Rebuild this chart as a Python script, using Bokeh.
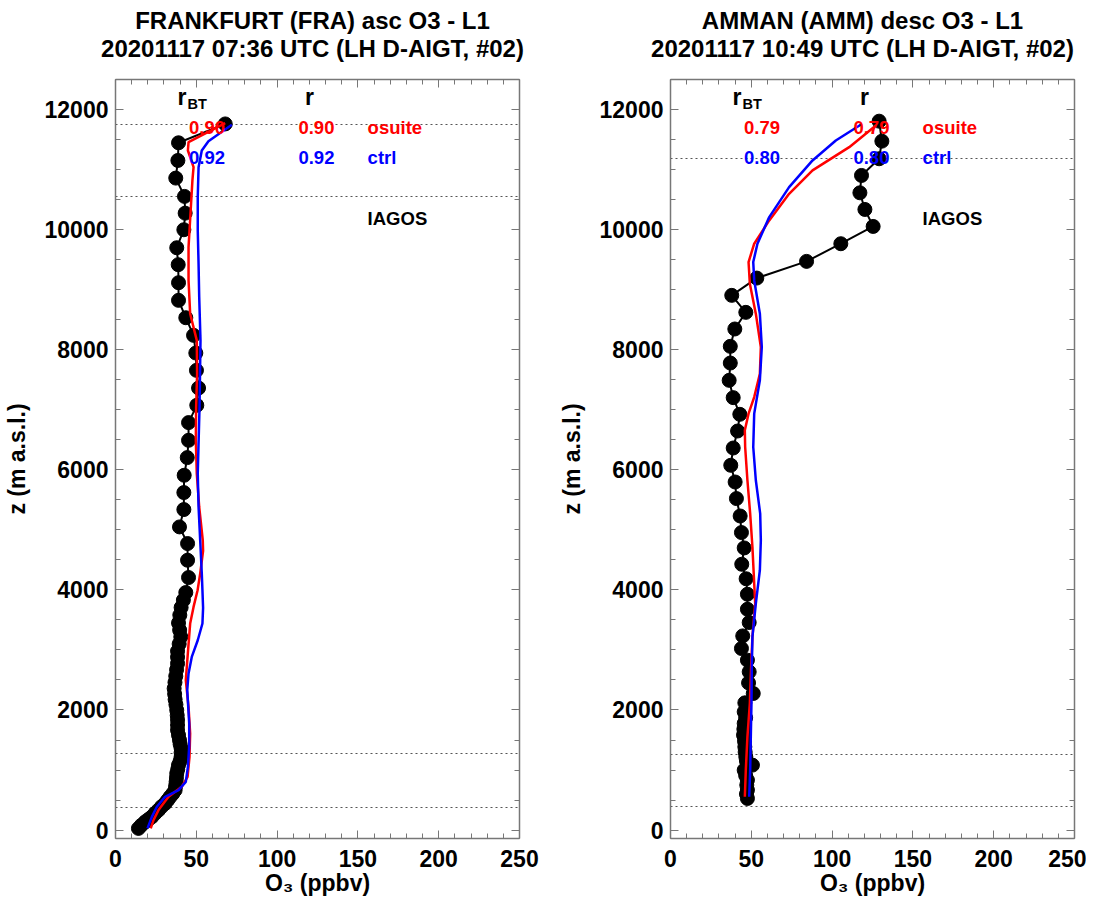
from bokeh.plotting import figure
from bokeh.models import (LinearAxis, Range1d, ColumnDataSource,
                          SingleIntervalTicker, CustomLabelingPolicy)
from bokeh.layouts import row, column
from bokeh.embed import file_html
from bokeh.resources import INLINE
from bokeh.core.properties import value

FONT = "Liberation Sans"

# ---------------- FRANKFURT (ascent) ----------------
fra_title = ["FRANKFURT (FRA) asc O3 - L1", "20201117 07:36 UTC (LH D-AIGT, #02)"]
fra_iagos_z = [28, 80, 138, 180, 221, 280, 333, 390, 444, 500, 554, 610, 666, 735,
               804, 870, 944, 1010, 1082, 1150, 1220, 1290, 1360, 1430, 1498, 1580,
               1664, 1750, 1831, 1910, 1997, 2090, 2175, 2265, 2358, 2460, 2563, 2670,
               2774, 2880, 2979, 3100, 3218, 3330, 3450, 3580, 3706, 3830, 3956, 4206,
               4494, 4772, 5049, 5338, 5621, 5909, 6203, 6491, 6786, 7074, 7362, 7656,
               7945, 8239, 8533, 8822, 9116, 9416, 9698, 9998, 10274, 10553, 10858,
               11152, 11446, 11760]
fra_iagos_o3 = [14.2, 16.0, 18.4, 20.5, 22.5, 24.5, 26.6, 28.5, 30.7, 32.3, 33.8, 35.5,
                36.9, 37.2, 37.5, 37.7, 37.9, 38.5, 39.0, 40.0, 40.6, 40.6, 40.6, 40.0,
                39.6, 39.0, 38.4, 38.4, 38.4, 38.2, 37.9, 37.4, 36.9, 36.6, 36.3, 36.8,
                37.3, 37.8, 38.4, 38.4, 38.4, 39.4, 40.4, 39.7, 39.0, 39.8, 40.6, 42.0,
                43.5, 45.2, 44.6, 44.6, 39.6, 42.3, 42.3, 42.5, 44.4, 45.2, 45.2, 50.3,
                51.4, 50.1, 49.7, 48.3, 43.5, 39.0, 39.0, 38.8, 37.9, 42.3, 43.1, 42.7,
                37.3, 38.6, 39.0, 67.9]
fra_osuite_z = [28, 166, 333, 554, 721, 887, 1220, 1609, 2053, 2497, 2884, 3440, 3717,
                3995, 4272, 4650, 4827, 5381, 5937, 6491, 7046, 7601, 8156, 8600, 9154,
                9709, 10264, 10819, 11040, 11318, 11457, 11773]
fra_osuite_o3 = [21.8, 23.5, 26.6, 32.8, 41.0, 44.6, 45.8, 46.2, 45.2, 43.5, 44.6, 46.2,
                 48.3, 50.8, 52.4, 54.2, 54.0, 51.8, 50.3, 49.7, 49.9, 50.5, 50.3, 46.2,
                 45.2, 45.2, 46.4, 47.6, 48.3, 44.8, 45.2, 67.9]
fra_ctrl_z = [28, 221, 388, 554, 666, 804, 1054, 1386, 1776, 2330, 2608, 2884, 3162,
              3440, 3700, 3995, 4272, 4827, 5381, 5937, 7046, 8156, 8877, 9433, 9987,
              10541, 11040, 11318, 11473, 11746]
fra_ctrl_o3 = [19.8, 22.5, 25.6, 30.7, 39.0, 43.5, 44.8, 45.6, 45.6, 44.4, 45.2, 47.2,
               50.9, 53.8, 54.2, 53.8, 53.4, 52.4, 51.4, 50.9, 52.0, 52.6, 51.8, 51.4,
               50.9, 50.9, 51.4, 53.4, 57.5, 72.0]
fra_levels = [11750, 10556, 1269, 370]
fra_r_bt = ["0.90", "0.92"]
fra_r = ["0.90", "0.92"]

# ---------------- AMMAN (descent) ----------------
amm_title = ["AMMAN (AMM) desc O3 - L1", "20201117 10:49 UTC (LH D-AIGT, #02)"]
amm_iagos_z = [11806, 11473, 11180, 10902, 10613, 10336, 10053, 9765, 9471, 9193, 8905,
               8622, 8345, 8056, 7778, 7490, 7202, 6924, 6646, 6363, 6075, 5797, 5521,
               5231, 4955, 4699, 4427, 4185, 3928, 3678, 3457, 3234, 3024, 2830, 2635,
               2452, 2275, 2119, 1969, 1870, 1776, 1680, 1581, 1480, 1386, 1300, 1220,
               1150, 1082, 999, 910, 832, 750, 666, 600, 527]
amm_iagos_o3 = [129.1, 130.8, 129.1, 118.2, 117.2, 120.3, 125.4, 105.4, 84.2, 53.4, 37.9,
                46.6, 39.8, 37.0, 37.0, 36.3, 38.8, 42.9, 41.5, 38.8, 37.3, 40.0, 40.8,
                43.1, 43.9, 45.6, 44.1, 46.8, 47.6, 47.6, 48.7, 44.7, 43.9, 47.6, 48.7,
                48.3, 51.2, 46.0, 45.6, 46.5, 45.6, 45.4, 45.2, 45.8, 46.0, 46.2, 46.6,
                47.0, 50.7, 45.6, 46.5, 47.6, 47.2, 47.6, 47.0, 47.6]
amm_osuite_z = [11734, 11373, 10986, 10596, 10153, 9765, 9460, 9098, 8600, 8045, 7601,
                7212, 6936, 6658, 6380, 5826, 5271, 4715, 4328, 3773, 3217, 2663, 2109,
                1553, 999, 554]
amm_osuite_o3 = [127.1, 110.6, 87.9, 73.4, 61.1, 51.8, 48.3, 49.1, 52.8, 55.9, 55.3,
                 51.8, 48.3, 46.0, 46.2, 47.6, 49.3, 50.7, 51.4, 52.4, 50.7, 49.8, 49.1,
                 47.6, 46.6, 46.0]
amm_ctrl_z = [11760, 11485, 11152, 10707, 10208, 9765, 9460, 9154, 8600, 8045, 7490,
              6936, 6380, 5826, 5271, 4827, 4328, 3773, 3217, 2663, 2109, 1553, 999, 554]
amm_ctrl_o3 = [118.4, 102.3, 87.9, 73.4, 61.1, 53.8, 51.2, 51.8, 55.3, 56.5, 55.3,
               51.8, 51.2, 52.8, 55.5, 55.9, 55.3, 52.8, 50.7, 50.3, 50.1, 49.7, 49.3,
               48.7]
amm_levels = [11189, 1252, 391]
amm_r_bt = ["0.79", "0.80"]
amm_r = ["0.79", "0.80"]

series_names = ["osuite", "ctrl"]
series_colors = ["#ff0000", "#0000ff"]

X_RANGE = (0, 250)
Y_RANGE = (-140, 12500)

BORDER_LEFT = 110
FRAME_W = 404
FRAME_H = 759
TITLE_H = 69


def style_axis(ax, labels=True):
    ax.axis_line_color = "#777777"
    ax.axis_line_width = 1.5
    ax.major_tick_line_color = "#777777"
    ax.minor_tick_line_color = "#777777"
    ax.major_tick_in = 8
    ax.major_tick_out = 0
    ax.minor_tick_in = 5
    ax.minor_tick_out = 0
    if labels:
        ax.major_label_text_font = FONT
        ax.major_label_text_font_style = "bold"
        ax.major_label_text_font_size = "23px"
        ax.major_label_text_color = "black"
        ax.axis_label_text_font = FONT
        ax.axis_label_text_font_style = "bold"
        ax.axis_label_text_font_size = "23px"
        ax.axis_label_text_color = "black"
    else:
        ax.major_label_text_font_size = "0px"
        ax.major_label_standoff = 0
        ax.major_label_policy = CustomLabelingPolicy(
            code="return new indices.constructor(indices.size, 0)")


def make_title(lines, border_right):
    w = BORDER_LEFT + FRAME_W + border_right
    t = figure(frame_width=w, frame_height=TITLE_H, x_range=Range1d(0, w),
               y_range=Range1d(0, TITLE_H), output_backend="svg",
               toolbar_location=None, min_border=0, x_axis_type=None,
               y_axis_type=None)
    t.outline_line_color = None
    t.background_fill_color = "white"
    t.border_fill_color = "white"
    t.text(x=[BORDER_LEFT + FRAME_W / 2] * 2, y=[TITLE_H - 20, TITLE_H - 48],
           text=lines, text_font=value(FONT), text_font_style="bold",
           text_font_size="24px", text_color="black", text_align="center",
           text_baseline="middle")
    return t


def make_panel(iz, io3, oz, oo3, cz, co3, levels, rbt, rr, border_right):
    p = figure(frame_width=FRAME_W, frame_height=FRAME_H,
               x_range=Range1d(*X_RANGE), y_range=Range1d(*Y_RANGE),
               output_backend="svg", toolbar_location=None,
               min_border_left=BORDER_LEFT, min_border_right=border_right,
               min_border_top=10, min_border_bottom=50,
               x_axis_type=None, y_axis_type=None)
    p.outline_line_color = None
    p.background_fill_color = "white"
    p.border_fill_color = "white"

    for loc in ["below", "above"]:
        ax = LinearAxis(ticker=SingleIntervalTicker(interval=50, num_minor_ticks=5))
        style_axis(ax, labels=(loc == "below"))
        if loc == "below":
            ax.axis_label = "O\u2083 (ppbv)"
            ax.major_label_standoff = 11
            ax.axis_label_standoff = 0
        p.add_layout(ax, loc)
    for loc in ["left", "right"]:
        ax = LinearAxis(ticker=SingleIntervalTicker(interval=2000, num_minor_ticks=4))
        style_axis(ax, labels=(loc == "left"))
        if loc == "left":
            ax.axis_label = "z (m a.s.l.)"
            ax.major_label_standoff = 7
            ax.axis_label_standoff = 12
        p.add_layout(ax, loc)

    p.hspan(y=levels, line_color="#555555", line_width=1, line_dash="2 3")

    p.line(io3, iz, line_color="black", line_width=2)
    p.scatter(io3, iz, size=14, fill_color="black", line_color="black")
    p.line(oo3, oz, line_color=series_colors[0], line_width=2.5)
    p.line(co3, cz, line_color=series_colors[1], line_width=2.5)

    # header: r_BT and r
    p.text(x=[38.4], y=[12204], text=["r"], text_font=value(FONT),
           text_font_style="bold", text_font_size="23px", text_color="black",
           text_align="left", text_baseline="middle")
    p.text(x=[44.6], y=[12094], text=["BT"], text_font=value(FONT),
           text_font_style="bold", text_font_size="14.5px", text_color="black",
           text_align="left", text_baseline="middle")
    p.text(x=[120], y=[12204], text=["r"], text_font=value(FONT),
           text_font_style="bold", text_font_size="23px", text_color="black",
           text_align="center", text_baseline="middle")

    row_y = [11706, 11197]
    src = ColumnDataSource(dict(y=row_y, rbt=rbt, rr=rr, name=series_names,
                                color=series_colors))
    common = dict(y="y", source=src, text_font=value(FONT), text_font_style="bold",
                  text_font_size="18.5px", text_color="color", text_align="left",
                  text_baseline="middle")
    p.text(x=45.5, text="rbt", **common)
    p.text(x=113.2, text="rr", **common)
    p.text(x=156, text="name", **common)
    p.text(x=[156], y=[10192], text=["IAGOS"], text_font=value(FONT),
           text_font_style="bold", text_font_size="18.5px", text_color="black",
           text_align="left", text_baseline="middle")
    return p


R1, R2 = 36, 12
t1 = make_title(fra_title, R1)
t2 = make_title(amm_title, R2)
p1 = make_panel(fra_iagos_z, fra_iagos_o3, fra_osuite_z, fra_osuite_o3,
                fra_ctrl_z, fra_ctrl_o3, fra_levels, fra_r_bt, fra_r, R1)
p2 = make_panel(amm_iagos_z, amm_iagos_o3, amm_osuite_z, amm_osuite_o3,
                amm_ctrl_z, amm_ctrl_o3, amm_levels, amm_r_bt, amm_r, R2)

layout = column(row(t1, t2), row(p1, p2))
open("out.html", "w").write(file_html(layout, INLINE))
